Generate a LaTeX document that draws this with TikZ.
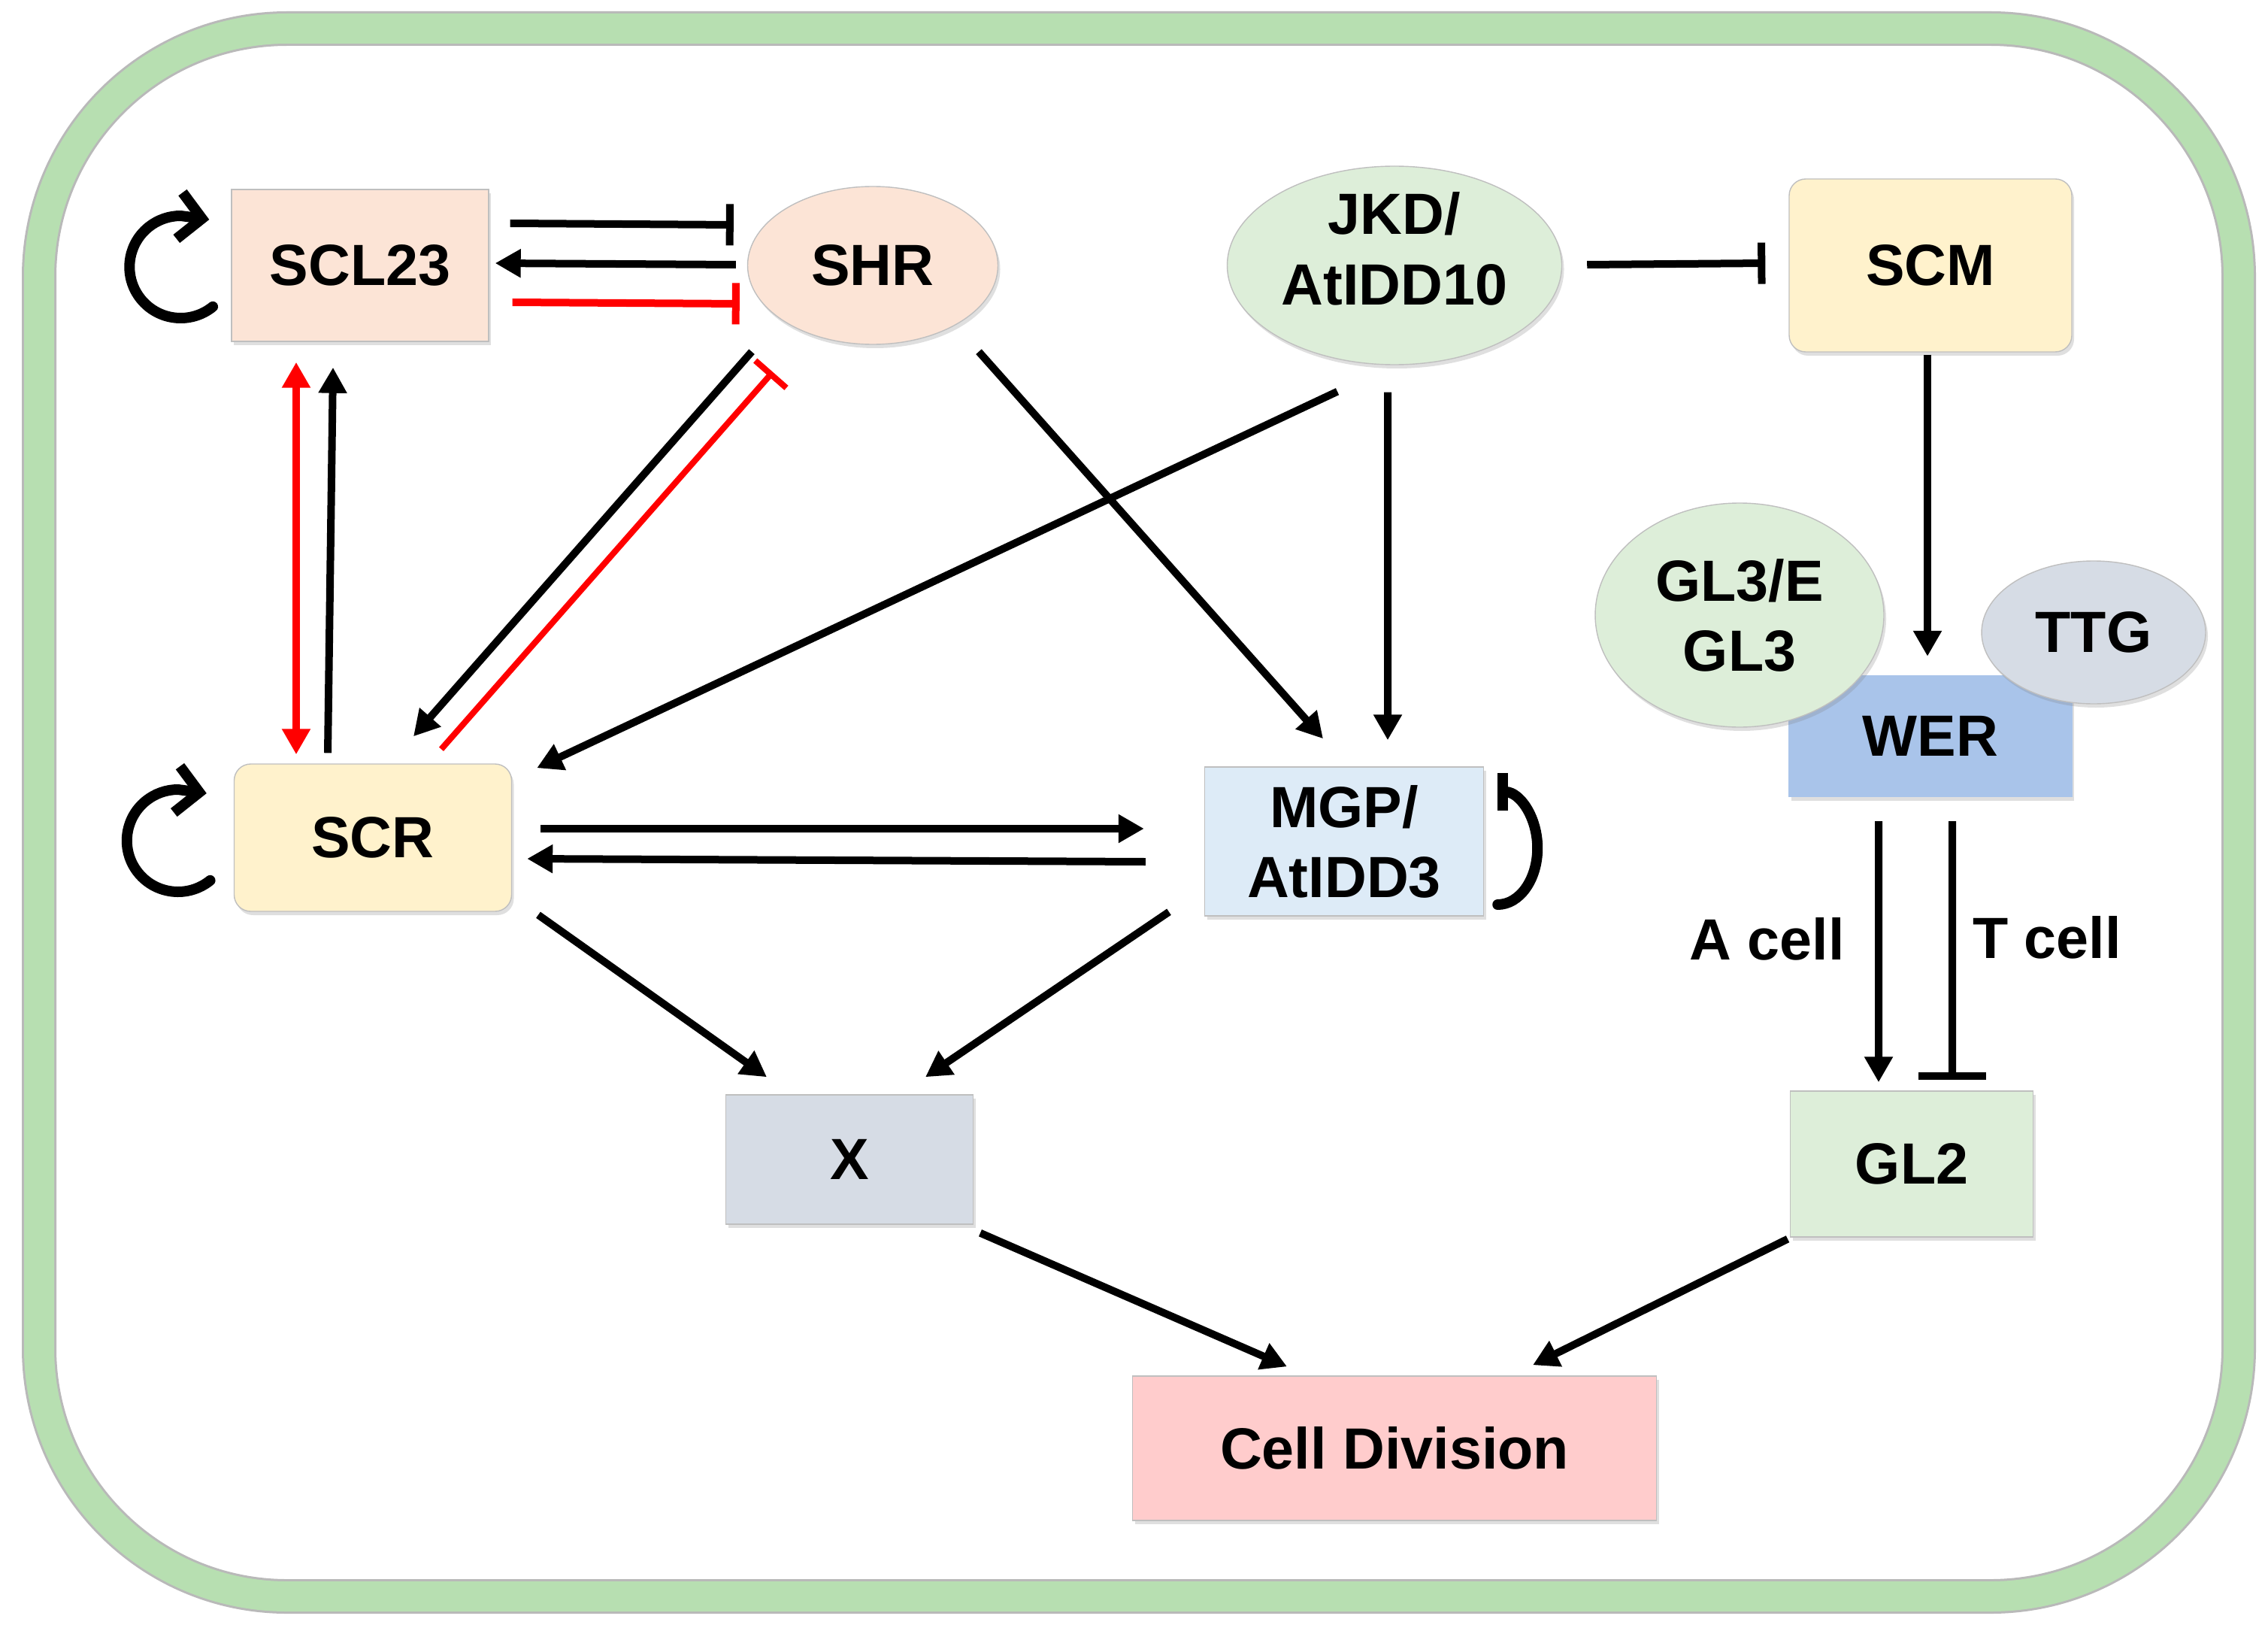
\documentclass[tikz,border=0pt]{standalone}
\usepackage{fontspec}
\setmainfont{Liberation Sans}
\usepackage{tikz}
\usetikzlibrary{positioning}
\usetikzlibrary{arrows.meta}
\usetikzlibrary{shapes.geometric}
\usetikzlibrary{calc}
\usetikzlibrary{shadows}

\definecolor{framegreen}{RGB}{183,223,177}
\definecolor{peach}{RGB}{252,228,214}
\definecolor{cream}{RGB}{255,242,204}
\definecolor{mint}{RGB}{221,238,217}
\definecolor{skyblue}{RGB}{221,235,247}
\definecolor{slate}{RGB}{214,220,229}
\definecolor{pinkish}{RGB}{255,204,204}
\definecolor{werblue}{RGB}{169,196,234}
\definecolor{inhred}{RGB}{255,0,0}

\begin{document}
\begin{tikzpicture}
    [
    on grid,
    every node/.style={font=\bfseries\fontsize{22}{26.5}\selectfont, align=center, inner sep=0pt},
    gene/.style={rectangle, draw=gray!50, thin, drop shadow={shadow xshift=0.03cm, shadow yshift=-0.05cm, opacity=0.25}},
    roundgene/.style={gene, rounded corners=0.22cm},
    oval/.style={gene, ellipse},
    act/.style={line width=0.1cm, -{Triangle[length=0.34cm, width=0.36cm]}},
    inh/.style={line width=0.1cm, -{Bar[width=0.55cm]}},
    selfloop/.style={line width=0.14cm, line cap=round, line join=round},
    ]

    \useasboundingbox (0,0) rectangle (30.17,-21.77);

    % cell border
    \draw[gray!55, line width=0.46cm, rounded corners=3.3cm] (0.52,-0.38) rectangle (29.78,-21.23);
    \draw[framegreen, line width=0.40cm, rounded corners=3.3cm] (0.52,-0.38) rectangle (29.78,-21.23);

    % top row
    \node[gene, fill=peach, minimum width=3.42cm, minimum height=2.02cm] (box_scl23) at (4.79,-3.53) {SCL23};
    \node[oval, fill=peach, minimum width=3.33cm, minimum height=2.10cm, right = 6.82cm of box_scl23] (ell_shr) {SHR};
    \node[oval, fill=mint, minimum width=4.45cm, minimum height=2.64cm, text depth=0.45cm, inner ysep=-0.2cm, right = 6.94cm of ell_shr] (ell_jkd) {JKD/\\AtIDD10};
    \node[roundgene, fill=cream, minimum width=3.76cm, minimum height=2.30cm, right = 7.13cm of ell_jkd] (box_scm) {SCM};

    % middle row
    \node[roundgene, fill=cream, minimum width=3.69cm, minimum height=1.96cm, below right = 7.61cm and 0.17cm of box_scl23] (box_scr) {SCR};
    \node[gene, fill=skyblue, minimum width=3.71cm, minimum height=1.98cm, below right = 0.05cm and 12.92cm of box_scr] (box_mgp) {MGP/\\AtIDD3};
    \node[gene, fill=werblue, draw=werblue, minimum width=3.76cm, minimum height=1.61cm, below = 6.26cm of box_scm] (box_wer) {WER};
    \node[oval, fill=mint, minimum width=3.84cm, minimum height=2.98cm, above left = 1.61cm and 2.54cm of box_wer] (ell_gl3) {GL3/E\\GL3};
    \node[oval, fill=slate, minimum width=2.98cm, minimum height=1.90cm, above right = 1.38cm and 2.17cm of box_wer] (ell_ttg) {TTG};

    % bottom rows
    \node[gene, fill=slate, minimum width=3.29cm, minimum height=1.72cm, below right = 4.28cm and 6.34cm of box_scr] (box_x) {X};
    \node[gene, fill=mint, minimum width=3.23cm, minimum height=1.94cm, below right = 0.06cm and 14.13cm of box_x] (box_gl2) {GL2};
    \node[gene, fill=pinkish, minimum width=6.97cm, minimum height=1.92cm, below right = 3.84cm and 7.25cm of box_x] (box_div) {Cell Division};

    % SCL23 and SHR
    \draw[inh] ([xshift=0.28cm, yshift=0.56cm]box_scl23.east) -- ([xshift=-0.18cm, yshift=0.54cm]ell_shr.west);
    \draw[act] ([xshift=-0.15cm, yshift=0.01cm]ell_shr.west) -- ([xshift=0.08cm, yshift=0.03cm]box_scl23.east);
    \draw[inh, inhred] ([xshift=0.31cm, yshift=-0.49cm]box_scl23.east) -- ([xshift=-0.10cm, yshift=-0.51cm]ell_shr.west);

    % self loops
    \draw[selfloop, -{Straight Barb[length=0.3cm, width=0.62cm]}] ($(box_scl23.west)+(-0.67,-0.02)+(-51:0.68)$) arc[start angle=-51, end angle=-270, radius=0.68cm] -- ++(0.38,-0.05);
    \draw[selfloop, -{Straight Barb[length=0.3cm, width=0.62cm]}] ($(box_scr.west)+(-0.74,-0.04)+(-51:0.68)$) arc[start angle=-51, end angle=-270, radius=0.68cm] -- ++(0.38,-0.05);
    \draw[selfloop, -{Bar[width=0.5cm]}] ($(box_mgp.east)+(0.18,-0.09)+(0,-0.75)$) arc[start angle=-90, end angle=90, x radius=0.53cm, y radius=0.75cm];

    % SCL23 and SCR
    \draw[act, inhred, {Triangle[length=0.34cm, width=0.36cm]}-{Triangle[length=0.34cm, width=0.36cm]}] ([xshift=-0.85cm, yshift=-0.27cm]box_scl23.south) -- ([xshift=-1.02cm, yshift=0.12cm]box_scr.north);
    \draw[act] ([xshift=-0.60cm, yshift=0.14cm]box_scr.north) -- ([xshift=-0.36cm, yshift=-0.34cm]box_scl23.south);

    % SHR and SCR
    \draw[act] ([xshift=-1.61cm, yshift=-0.09cm]ell_shr.south) -- ([xshift=0.54cm, yshift=0.36cm]box_scr.north);
    \draw[inh, inhred, line width=0.08cm] ([xshift=0.91cm, yshift=0.19cm]box_scr.north) -- ([xshift=-1.33cm, yshift=-0.36cm]ell_shr.south);

    % SHR and JKD to MGP, SCR
    \draw[act] ([xshift=1.41cm, yshift=-0.09cm]ell_shr.south) -- ([xshift=-0.28cm, yshift=0.37cm]box_mgp.north);
    \draw[act] ([xshift=-0.76cm, yshift=-0.35cm]ell_jkd.south) -- ([xshift=0.33cm, yshift=-0.06cm]box_scr.north east);
    \draw[act] ([xshift=-0.09cm, yshift=-0.36cm]ell_jkd.south) -- ([xshift=0.58cm, yshift=0.35cm]box_mgp.north);
    \draw[inh] ([xshift=0.33cm, yshift=0.01cm]ell_jkd.east) -- ([xshift=-0.31cm, yshift=0.03cm]box_scm.west);
    \draw[act] ([xshift=-0.04cm, yshift=-0.03cm]box_scm.south) -- ([xshift=-0.04cm, yshift=0.25cm]box_wer.north);

    % SCR and MGP
    \draw[act] ([xshift=0.38cm, yshift=0.12cm]box_scr.east) -- ([xshift=-0.80cm, yshift=0.17cm]box_mgp.west);
    \draw[act] ([xshift=-0.78cm, yshift=-0.27cm]box_mgp.west) -- ([xshift=0.20cm, yshift=-0.28cm]box_scr.east);

    % to X and cell division
    \draw[act] ([xshift=2.20cm, yshift=-0.04cm]box_scr.south) -- ([xshift=-1.10cm, yshift=0.23cm]box_x.north);
    \draw[act] ([xshift=-2.33cm, yshift=0.06cm]box_mgp.south) -- ([xshift=1.01cm, yshift=0.23cm]box_x.north);
    \draw[act] ([xshift=1.74cm, yshift=-0.11cm]box_x.south) -- ([xshift=-1.43cm, yshift=0.12cm]box_div.north);
    \draw[act] ([xshift=-1.65cm, yshift=-0.02cm]box_gl2.south) -- ([xshift=1.84cm, yshift=0.14cm]box_div.north);

    % WER to GL2
    \draw[act] ([xshift=-0.69cm, yshift=-0.32cm]box_wer.south) -- node[pos=0.45, left=0.4cm] (tag_acell) {A cell} ([xshift=-0.44cm, yshift=0.11cm]box_gl2.north);
    \draw[line width=0.1cm, -{Bar[width=0.9cm]}] ([xshift=0.29cm, yshift=-0.32cm]box_wer.south) -- node[pos=0.45, right=0.22cm] (tag_tcell) {T cell} ([xshift=0.54cm, yshift=0.14cm]box_gl2.north);
\end{tikzpicture}
\end{document}
